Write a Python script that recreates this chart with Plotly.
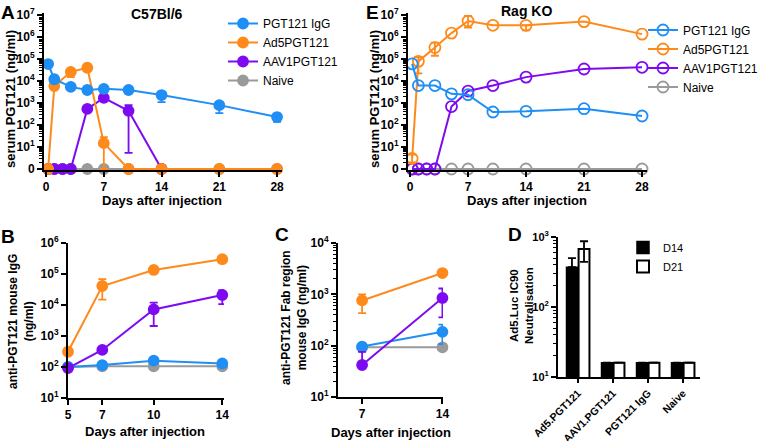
import plotly.graph_objects as go

W, H = 760, 441
FONT = "Liberation Sans"
BLUE = "#1f8ef5"
ORANGE = "#ff8a1c"
PURPLE = "#7d0af0"
GRAY = "#9a9a9a"

SERIES = ["PGT121 IgG", "Ad5PGT121", "AAV1PGT121", "Naive"]

# ---------------- Panel A: C57Bl/6, serum PGT121 (ng/ml) ----------------
A_igg_days = [0.25, 1, 3, 5, 7, 10, 14, 21, 28]
A_igg = [5.9e4, 1.2e4, 5.4e3, 3.9e3, 4.4e3, 3.9e3, 2.3e3, 800, 230]
A_igg_lo = [None, None, None, None, None, None, 1100, 350, 140]
A_igg_hi = [None] * 9

A_ad5_days = [0.25, 1, 3, 5, 7, 10, 14, 21, 28]
A_ad5 = [0, 5.9e3, 2.6e4, 4.0e4, 15, 0, 0, 0, 0]
A_ad5_lo = [None, None, 1.5e4, 2.8e4, 0, None, None, None, None]
A_ad5_hi = [None, None, None, None, 28, None, None, None, None]

A_aav_days = [0.25, 1, 2, 3, 5, 7, 10, 14]
A_aav = [0, 0, 0, 0, 540, 1700, 440, 0]
A_aav_lo = [None, None, None, None, None, None, 5.4, None]
A_aav_hi = [None, None, None, None, None, None, 800, None]

A_naive_days = [0.25, 1, 2, 3, 5, 7, 10, 14, 21, 28]
A_naive = [0, 0, 0, 0, 0, 0, 0, 0, 0, 0]

# ---------------- Panel E: Rag KO, serum PGT121 (ng/ml) ----------------
E_igg_days = [0.25, 1, 3, 5, 7, 10, 14, 21, 28]
E_igg = [6.0e4, 6.2e3, 6.2e3, 2.6e3, 2.4e3, 390, 420, 550, 256]

E_ad5_days = [0.25, 1, 3, 5, 7, 10, 14, 21, 28]
E_ad5 = [3, 7.8e4, 3.3e5, 1.5e6, 5.3e6, 3.4e6, 3.4e6, 5.0e6, 1.35e6]
E_ad5_lo = [2, 2.2e4, 1.4e5, None, 2.7e6, None, 2.0e6, None, None]
E_ad5_hi = [4.5, 1.2e5, 5.6e5, None, 9.0e6, None, None, None, None]

E_aav_days = [0.25, 1, 2, 3, 5, 7, 10, 14, 21, 28]
E_aav = [0, 0, 0, 0, 690, 3.5e3, 6.2e3, 1.5e4, 3.5e4, 4.2e4]

E_naive_days = [0.25, 1, 2, 3, 5, 7, 10, 14, 21, 28]
E_naive = [0, 0, 0, 0, 0, 0, 0, 0, 0, 0]

# ---------------- Panel B: anti-PGT121 mouse IgG (ng/ml) ----------------
B_days = [5, 7, 10, 14]
B_ad5 = [310, 4.1e4, 1.35e5, 3.0e5]
B_ad5_lo = [None, 1.5e4, None, None]
B_ad5_hi = [None, 6.8e4, None, None]
B_aav = [92, 355, 7.2e3, 2.1e4]
B_aav_lo = [None, None, 2.1e3, 1.07e4]
B_aav_hi = [None, None, 1.2e4, 3.0e4]
B_igg = [100, 115, 160, 130]
B_naive = [100, 105, 105, 105]

# ---------------- Panel C: anti-PGT121 Fab region mouse IgG (ng/ml) ----------------
C_days = [7, 14]
C_ad5 = [760, 2600]
C_ad5_lo = [430, None]
C_ad5_hi = [1000, None]
C_aav = [42, 850]
C_aav_lo = [None, 355]
C_aav_hi = [76, 1300]
C_igg = [96, 186]
C_igg_lo = [None, 107]
C_igg_hi = [None, 257]
C_naive = [93, 93]

# ---------------- Panel D: Ad5.Luc IC90 neutralisation ----------------
D_groups = ["Ad5.PGT121", "AAV1.PGT121", "PGT121 IgG", "Naive"]
D_d14 = [370, 16, 16, 16]
D_d14_hi = [500, None, None, None]
D_d21 = [675, 16, 16, 16]
D_d21_lo = [440, None, None, None]
D_d21_hi = [870, None, None, None]


def z(vals):
    """GraphPad draws 0 at the axis origin, i.e. 1 on the log scale."""
    return [max(v, 1) for v in vals]


fig = go.Figure()
rank = {s: i for i, s in enumerate(SERIES)}


def errors(xa, ya, x, y, color, lo, hi):
    """Error bars only for the points that have them (own invisible trace)."""
    n = len(y)
    lo = lo or [None] * n
    hi = hi or [None] * n
    idx = [i for i in range(n) if lo[i] is not None or hi[i] is not None]
    if not idx:
        return
    ys = [max(y[i], 1) for i in idx]
    plus = [0 if hi[i] is None else max(hi[i], 1) - max(y[i], 1) for i in idx]
    minus = [0 if lo[i] is None else max(y[i], 1) - max(lo[i], 1) for i in idx]
    fig.add_trace(go.Scatter(
        x=[x[i] for i in idx], y=ys, xaxis=xa, yaxis=ya, mode="markers",
        marker=dict(size=1, color="rgba(0,0,0,0)"), showlegend=False,
        hoverinfo="skip", cliponaxis=False,
        error_y=dict(type="data", symmetric=False, array=plus, arrayminus=minus,
                     color=color, thickness=1.8, width=4)))


def line(xa, ya, x, y, color, name, lo=None, hi=None, open_=False,
         legend=None, size=10):
    errors(xa, ya, x, y, color, lo, hi)
    fig.add_trace(go.Scatter(
        x=x, y=z(y), xaxis=xa, yaxis=ya, name=name, mode="lines+markers",
        line=dict(color=color, width=2),
        marker=dict(color=color, size=size,
                    symbol="circle-open" if open_ else "circle",
                    line=dict(width=1.8, color=color)),
        cliponaxis=False,
        showlegend=legend is not None,
        legend=legend if legend else "legend",
        legendrank=rank[name],
    ))


# Panel A (draw order: naive, AAV1, Ad5, IgG)
line("x", "y", A_naive_days, A_naive, GRAY, "Naive", legend="legend")
line("x", "y", A_aav_days, A_aav, PURPLE, "AAV1PGT121", A_aav_lo, A_aav_hi, legend="legend")
line("x", "y", A_ad5_days, A_ad5, ORANGE, "Ad5PGT121", A_ad5_lo, A_ad5_hi, legend="legend")
line("x", "y", A_igg_days, A_igg, BLUE, "PGT121 IgG", A_igg_lo, A_igg_hi, legend="legend")

# Panel E
line("x2", "y2", E_naive_days, E_naive, GRAY, "Naive", open_=True, legend="legend2", size=11)
line("x2", "y2", E_aav_days, E_aav, PURPLE, "AAV1PGT121", open_=True, legend="legend2", size=11)
line("x2", "y2", E_ad5_days, E_ad5, ORANGE, "Ad5PGT121", E_ad5_lo, E_ad5_hi, open_=True, legend="legend2", size=11)
line("x2", "y2", E_igg_days, E_igg, BLUE, "PGT121 IgG", open_=True, legend="legend2", size=11)

# Panel B
line("x3", "y3", B_days, B_naive, GRAY, "Naive")
line("x3", "y3", B_days, B_igg, BLUE, "PGT121 IgG")
line("x3", "y3", B_days, B_aav, PURPLE, "AAV1PGT121", B_aav_lo, B_aav_hi)
line("x3", "y3", B_days, B_ad5, ORANGE, "Ad5PGT121", B_ad5_lo, B_ad5_hi)

# Panel C
line("x4", "y4", C_days, C_naive, GRAY, "Naive")
line("x4", "y4", C_days, C_igg, BLUE, "PGT121 IgG", C_igg_lo, C_igg_hi)
line("x4", "y4", C_days, C_aav, PURPLE, "AAV1PGT121", C_aav_lo, C_aav_hi)
line("x4", "y4", C_days, C_ad5, ORANGE, "Ad5PGT121", C_ad5_lo, C_ad5_hi)


def bar_err(vals, lo, hi):
    n = len(vals)
    lo = lo or [None] * n
    hi = hi or [None] * n
    return dict(type="data", symmetric=False,
                array=[0 if h is None else h - v for v, h in zip(vals, hi)],
                arrayminus=[0 if l is None else v - l for v, l in zip(vals, lo)],
                color="black", thickness=1.8, width=4)


# Panel D bars
fig.add_trace(go.Bar(
    x=D_groups, y=D_d14, name="D14", xaxis="x5", yaxis="y5",
    marker=dict(color="black", line=dict(color="black", width=1.5)),
    error_y=bar_err(D_d14, None, D_d14_hi), legend="legend3"))
fig.add_trace(go.Bar(
    x=D_groups, y=D_d21, name="D21", xaxis="x5", yaxis="y5",
    marker=dict(color="white", line=dict(color="black", width=2)),
    error_y=bar_err(D_d21, D_d21_lo, D_d21_hi), legend="legend3"))


def px_x(a, b):
    return [a / W, b / W]


def px_y(top, bottom):
    return [1 - bottom / H, 1 - top / H]


def sup(k):
    return f"10<sup>{k}</sup>"


def minor_vals(k0, k1):
    return [m * 10 ** k for k in range(k0, k1) for m in range(2, 10)]


TICKF = dict(family=FONT, size=12, color="black", weight="bold")


def xax(domain, rng, anchor, tickvals, **kw):
    d = dict(domain=domain, range=rng, anchor=anchor, tickmode="array",
             tickvals=tickvals, showline=True, linewidth=2, linecolor="black",
             ticks="outside", ticklen=5, tickwidth=2, tickcolor="black",
             showgrid=False, zeroline=False, tickfont=TICKF)
    d.update(kw)
    return d


def yax(domain, rng, anchor, k0, k1, zero_label=False, minor=True, size=12):
    vals = [10 ** k for k in range(k0, k1 + 1)]
    text = [sup(k) for k in range(k0, k1 + 1)]
    if zero_label:
        text[0] = "0"
    d = dict(type="log", domain=domain, range=rng, anchor=anchor,
             tickmode="array", tickvals=vals, ticktext=text,
             showline=True, linewidth=2, linecolor="black",
             ticks="outside", ticklen=5, tickwidth=2, tickcolor="black",
             showgrid=False, zeroline=False,
             tickfont=dict(family=FONT, size=size, color="black", weight="bold"))
    if minor:
        d["minor"] = dict(tickmode="array", tickvals=minor_vals(k0, k1),
                          ticks="outside", ticklen=3, tickwidth=1,
                          tickcolor="black", showgrid=False)
    return d


layout = dict(
    width=W, height=H, margin=dict(l=0, r=0, t=0, b=0, autoexpand=False),
    paper_bgcolor="white", plot_bgcolor="white",
    font=dict(family=FONT, color="black", size=12),
    bargap=0.31, bargroupgap=0.1, barmode="group",
    xaxis=xax(px_x(44, 282), [-0.25, 28.6], "y", [0, 7, 14, 21, 28]),
    yaxis=yax(px_y(13, 170), [-0.045, 7.09], "x", 0, 7, zero_label=True),
    xaxis2=xax(px_x(408, 647), [-0.25, 28.6], "y2", [0, 7, 14, 21, 28]),
    yaxis2=yax(px_y(13, 170), [-0.045, 7.09], "x2", 0, 7, zero_label=True),
    xaxis3=xax(px_x(68, 224), [5, 14.1], "y3", [5, 7, 10, 14]),
    yaxis3=yax(px_y(243, 398), [1, 6], "x3", 1, 6, minor=False),
    xaxis4=xax(px_x(338, 443), [4.9, 14.05], "y4", [7, 14]),
    yaxis4=yax(px_y(243, 397), [1, 4], "x4", 1, 4),
    xaxis5=dict(domain=px_x(558, 700), range=[-0.571, 3.486], anchor="y5",
                type="category", showline=True, linewidth=2, linecolor="black",
                ticks="outside", ticklen=4, tickwidth=2, tickcolor="black",
                showgrid=False, tickangle=-45,
                tickfont=dict(family=FONT, size=10.5, color="black", weight="bold")),
    yaxis5=yax(px_y(237, 377), [1, 3], "x5", 1, 3, size=11),
    legend=dict(x=223 / W, y=1 - 9 / H, xanchor="left", yanchor="top",
                font=dict(family=FONT, size=12, color="black"),
                bgcolor="rgba(0,0,0,0)", tracegroupgap=0, itemwidth=30),
    legend2=dict(x=643 / W, y=1 - 15.5 / H, xanchor="left", yanchor="top",
                 font=dict(family=FONT, size=12, color="black"),
                 bgcolor="rgba(0,0,0,0)", tracegroupgap=0, itemwidth=30),
    legend3=dict(x=623 / W, y=1 - 233 / H, xanchor="left", yanchor="top",
                 font=dict(family=FONT, size=11, color="black"),
                 bgcolor="rgba(0,0,0,0)", tracegroupgap=0, itemwidth=30),
)
fig.update_layout(**layout)


def ann(text, x, y, size=13, angle=0, bold=True, xanchor="center"):
    fig.add_annotation(
        text=f"<b>{text}</b>" if bold else text, x=x / W, y=1 - y / H,
        xref="paper", yref="paper", showarrow=False, textangle=angle,
        xanchor=xanchor, yanchor="middle",
        font=dict(family=FONT, size=size, color="black"))


# panel letters
ann("A", 8, 12, size=19)
ann("E", 372, 12, size=19)
ann("B", 8, 236, size=19)
ann("C", 282, 235, size=19)
ann("D", 515, 235, size=19)

# titles
ann("C57Bl/6", 157, 14, size=14)
ann("Rag KO", 526, 11, size=14)

# axis titles
ann("serum PGT121 (ng/ml)", 10, 99, angle=-90)
ann("Days after injection", 162, 200)
ann("serum PGT121 (ng/ml)", 374, 99, angle=-90)
ann("Days after injection", 527, 200)
ann("anti-PGT121 mouse IgG<br>(ng/ml)", 21, 322, size=12, angle=-90)
ann("Days after injection", 145, 431)
ann("anti-PGT121 Fab region<br>mouse IgG (ng/ml)", 294, 318, size=12, angle=-90)
ann("Days after injection", 391, 432)
ann("Ad5.Luc IC90<br>Neutralisation", 521, 306, size=11.5, angle=-90)

fig.write_html("out.html", config={"displayModeBar": False},
               post_script="document.body.style.margin='0px';")
